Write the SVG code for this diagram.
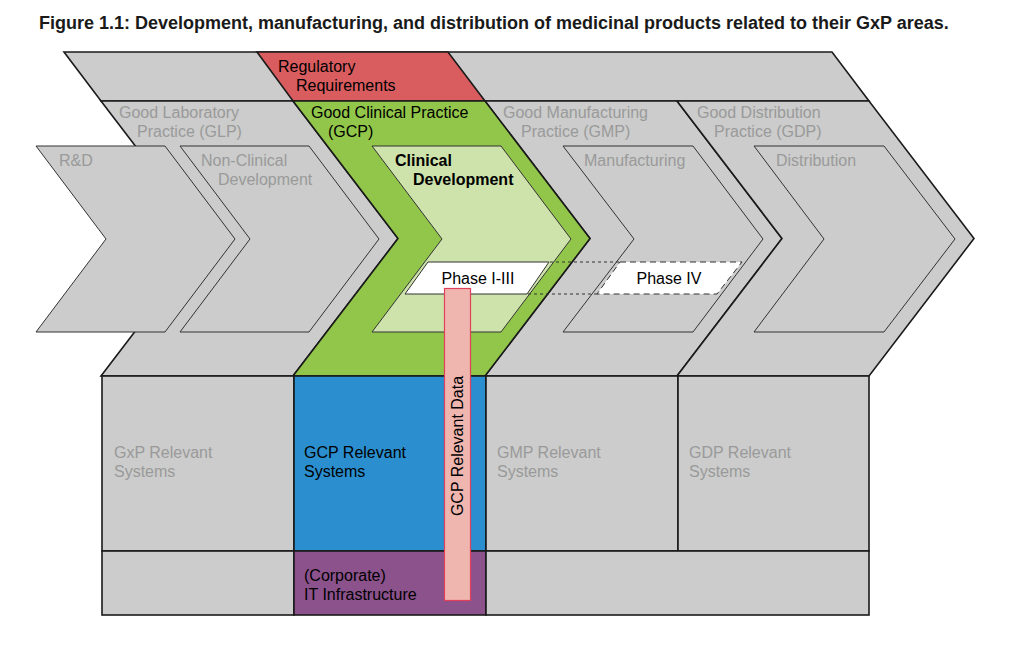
<svg xmlns="http://www.w3.org/2000/svg" width="1027" height="649" viewBox="0 0 1027 649">
<style>
.t{font-family:"Liberation Sans",Arial,sans-serif;font-size:16px}
.g{fill:#9a9a9a}
.k{fill:#000}
.b{font-weight:bold}
.big{stroke:#1a1a1a;stroke-width:1.6;stroke-linejoin:miter}
.inner{stroke:#333;stroke-width:1}
.grey{fill:#cbcccb}
</style>
<rect width="1027" height="649" fill="#fff"/>
<text x="39" y="29" class="t b" fill="#1a1a1a" style="font-size:18px">Figure 1.1: Development, manufacturing, and distribution of medicinal products related to their GxP areas.</text>

<g id="top-band">
<polygon points="64,52 832,52 869,101 101,101" class="grey big"/>
</g>
<g id="regulatory">
<polygon points="257,52 448,52 485,101 293,101" fill="#d95c5f" class="big"/>
<text x="278" y="72" class="t k">Regulatory</text>
<text x="296" y="91" class="t k">Requirements</text>
</g>

<g id="glp">
<polygon points="101,101 293,101 398,238.5 293,376 101,376 206,238.5" class="grey big"/>
<text x="119" y="118" class="t g">Good Laboratory</text>
<text x="137" y="137" class="t g">Practice (GLP)</text>
</g>
<g id="gmp">
<polygon points="485,101 677,101 782,238.5 677,376 485,376 590,238.5" class="grey big"/>
<text x="503" y="118" class="t g">Good Manufacturing</text>
<text x="521" y="137" class="t g">Practice (GMP)</text>
</g>
<g id="gdp">
<polygon points="677,101 869,101 974,238.5 869,376 677,376 782,238.5" class="grey big"/>
<text x="697" y="118" class="t g">Good Distribution</text>
<text x="714" y="137" class="t g">Practice (GDP)</text>
</g>
<g id="gcp">
<polygon points="293,101 485,101 590,238.5 485,376 293,376 398,238.5" fill="#92c64a" class="big"/>
<text x="311" y="118" class="t k">Good Clinical Practice</text>
<text x="328" y="137" class="t k">(GCP)</text>
</g>

<g id="rnd">
<polygon points="36,146 165,146 235,239 165,332 36,332 106,239" class="grey inner"/>
<text x="59" y="166" class="t g">R&amp;D</text>
</g>
<g id="non-clinical">
<polygon points="180,146 309,146 379,239 309,332 180,332 250,239" class="grey inner"/>
<text x="201" y="166" class="t g">Non-Clinical</text>
<text x="218" y="185" class="t g">Development</text>
</g>
<g id="clinical">
<polygon points="372,146 501,146 571,239 501,332 372,332 442,239" fill="#cde3ab" class="inner"/>
<text x="395" y="166" class="t b k">Clinical</text>
<text x="413" y="185" class="t b k">Development</text>
</g>
<g id="manufacturing">
<polygon points="563,146 693,146 763,239 693,332 563,332 634,239" class="grey inner"/>
<text x="584" y="166" class="t g">Manufacturing</text>
</g>
<g id="distribution">
<polygon points="754,146 884,146 955,239 884,332 754,332 824,239" class="grey inner"/>
<text x="776" y="166" class="t g">Distribution</text>
</g>

<g id="connectors">
<line x1="550" y1="262" x2="620" y2="262" stroke="#333" stroke-width="1" stroke-dasharray="3,3"/>
<line x1="528" y1="294" x2="597" y2="294" stroke="#333" stroke-width="1" stroke-dasharray="3,3"/>
</g>

<g id="phase-1-3">
<polygon points="428,262 549,262 527,294 405,294" fill="#fff" stroke="#333" stroke-width="1"/>
<text x="478" y="284" class="t k" text-anchor="middle">Phase I-III</text>
</g>
<g id="phase-4">
<polygon points="620,262 742,262 717,294 597,294" fill="#fff" stroke="#333" stroke-width="1" stroke-dasharray="6,4"/>
<text x="669" y="284" class="t k" text-anchor="middle">Phase IV</text>
</g>

<g id="gxp-systems">
<rect x="102" y="376" width="192" height="175" class="grey big"/>
<text x="114" y="458" class="t g">GxP Relevant</text>
<text x="114" y="477" class="t g">Systems</text>
</g>
<g id="gcp-systems">
<rect x="294" y="376" width="192" height="175" fill="#2b8fcf" class="big"/>
<text x="304" y="458" class="t k">GCP Relevant</text>
<text x="304" y="477" class="t k">Systems</text>
</g>
<g id="gmp-systems">
<rect x="486" y="376" width="192" height="175" class="grey big"/>
<text x="497" y="458" class="t g">GMP Relevant</text>
<text x="497" y="477" class="t g">Systems</text>
</g>
<g id="gdp-systems">
<rect x="678" y="376" width="191" height="175" class="grey big"/>
<text x="689" y="458" class="t g">GDP Relevant</text>
<text x="689" y="477" class="t g">Systems</text>
</g>
<g id="infra-left">
<rect x="102" y="551" width="192" height="64" class="grey big"/>
</g>
<g id="it-infrastructure">
<rect x="294" y="551" width="192" height="64" fill="#8c528c" class="big"/>
<text x="304" y="581" class="t k">(Corporate)</text>
<text x="304" y="600" class="t k">IT Infrastructure</text>
</g>
<g id="infra-right">
<rect x="486" y="551" width="383" height="64" class="grey big"/>
</g>

<g id="gcp-data">
<rect x="444.5" y="288.5" width="26" height="312" fill="#efb5af" stroke="#e0405a" stroke-width="1.2"/>
<text transform="translate(463,446) rotate(-90)" class="t k" text-anchor="middle">GCP Relevant Data</text>
</g>
</svg>
